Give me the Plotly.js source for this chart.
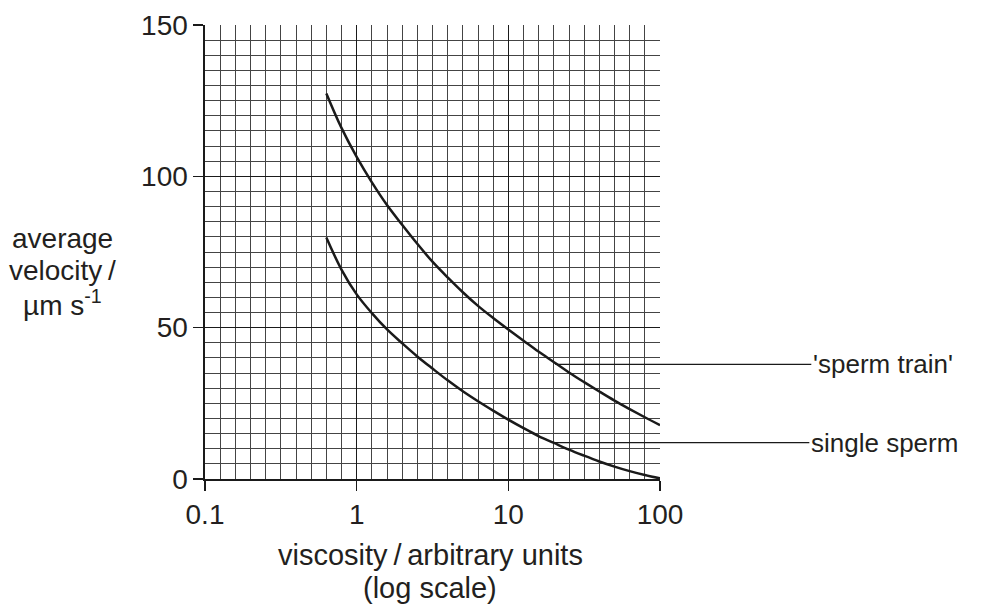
<!DOCTYPE html>
<html>
<head>
<meta charset="utf-8">
<script src="https://cdn.plot.ly/plotly-3.0.1.min.js"></script>
<style>
  html, body { margin: 0; padding: 0; background: #ffffff; }
  #chart { width: 982px; height: 616px; }
</style>
</head>
<body>
<div id="chart"></div>
<script>
// viscosity (arbitrary units, log scale)
const viscosity = [0.631, 0.794, 1, 1.26, 1.58, 2.0, 2.51, 3.16, 3.98, 5.01, 6.31, 7.94,
                   10, 12.6, 15.8, 20.0, 25.1, 31.6, 39.8, 50.1, 63.1, 79.4, 100];
// average velocity (µm s-1)
const spermTrain  = [127.4, 116.0, 106.4, 98.0, 90.6, 83.9, 77.7, 71.8, 66.6, 61.7, 57.2, 53.2,
                     49.4, 45.7, 42.1, 38.6, 35.2, 32.0, 28.9, 25.9, 23.1, 20.4, 17.8];
const singleSperm = [79.8, 69.2, 61.0, 54.8, 49.5, 44.8, 40.5, 36.5, 32.6, 29.0, 25.7, 22.6,
                     19.6, 16.8, 14.2, 11.9, 9.7, 7.7, 5.8, 4.1, 2.6, 1.3, 0.2];
const xTickVals = [0.1, 1, 10, 100];
const xTickText = ['0.1', '1', '10', '100'];
const yTickVals = [0, 50, 100, 150];
const seriesLabels = ["'sperm train'", 'single sperm'];
const yTitleLines = ['average', 'velocity\u2009/', 'µm s<sup>-1</sup>'];
const xTitleLines = ['viscosity\u2009/\u2009arbitrary units', '(log scale)'];
const labelAtViscosity = [20.4, 19.8];
const labelVelocity = [37.9, 12.0];

const FONT = 'Liberation Sans, Arial, Helvetica, sans-serif';
const TXT = '#231f20';
const FS = 28;

const traces = [
  { x: [], y: [], xaxis: 'x', yaxis: 'y', type: 'scatter', mode: 'lines', showlegend: false, hoverinfo: 'skip' },
  { x: viscosity, y: spermTrain, xaxis: 'x2', yaxis: 'y', type: 'scatter', mode: 'lines',
    line: { color: '#1a1a1a', width: 2.5, shape: 'spline', smoothing: 1 }, name: seriesLabels[0], showlegend: false },
  { x: viscosity, y: singleSperm, xaxis: 'x2', yaxis: 'y', type: 'scatter', mode: 'lines',
    line: { color: '#1a1a1a', width: 2.5, shape: 'spline', smoothing: 1 }, name: seriesLabels[1], showlegend: false }
];

// paper-y helper from a pixel row (plot area spans rows 25..479)
const py = (row) => (479 - row) / 454;
const px = (col) => (col - 205) / 455;

const annotations = [];
const yRows = [238, 270, 303];
yTitleLines.forEach((t, i) => annotations.push({
  xref: 'paper', yref: 'paper', x: px(62), y: py(yRows[i]), xanchor: 'center', yanchor: 'middle',
  text: t, showarrow: false, font: { family: FONT, size: FS, color: TXT }
}));
const xRows = [555, 588];
xTitleLines.forEach((t, i) => annotations.push({
  xref: 'paper', yref: 'paper', x: px(430), y: py(xRows[i]), xanchor: 'center', yanchor: 'middle',
  text: t, showarrow: false, font: { family: FONT, size: 29, color: TXT }
}));
seriesLabels.forEach((t, i) => annotations.push({
  xref: 'x2', yref: 'y', x: Math.log10(labelAtViscosity[i]), y: labelVelocity[i],
  text: t, showarrow: true, arrowhead: 0, arrowwidth: 1.3, arrowcolor: '#1a1a1a',
  ax: 256, ay: 0, xanchor: 'left', yanchor: 'middle', standoff: 0, startstandoff: 0,
  font: { family: FONT, size: 26, color: TXT }
}));

const layout = {
  width: 982, height: 616,
  margin: { l: 205, r: 322, t: 25, b: 137, pad: 0 },
  paper_bgcolor: '#ffffff', plot_bgcolor: '#ffffff',
  font: { family: FONT, size: FS, color: TXT },
  showlegend: false,
  xaxis: {
    type: 'linear', range: [-1, 2], dtick: 1, tick0: 0,
    showgrid: true, gridcolor: '#1a1a1a', gridwidth: 1.6,
    minor: { dtick: 0.1, tick0: 0, showgrid: true, gridcolor: '#444444', gridwidth: 1 },
    showticklabels: false, ticks: '', zeroline: false, showline: false, fixedrange: true
  },
  xaxis2: {
    type: 'log', range: [-1, 2], overlaying: 'x', anchor: 'y', side: 'bottom',
    tickmode: 'array', tickvals: xTickVals, ticktext: xTickText,
    ticks: 'outside', ticklen: 10, tickwidth: 1.6, tickcolor: '#1a1a1a',
    tickfont: { family: FONT, size: FS, color: TXT },
    showgrid: false, zeroline: false, showline: true, linecolor: '#1a1a1a', linewidth: 1.6,
    fixedrange: true
  },
  yaxis: {
    range: [0, 150], tickmode: 'array', tickvals: yTickVals,
    showgrid: true, gridcolor: '#1a1a1a', gridwidth: 1.6,
    minor: { dtick: 5, tick0: 0, showgrid: true, gridcolor: '#444444', gridwidth: 1 },
    ticks: 'outside', ticklen: 10, tickwidth: 1.6, tickcolor: '#1a1a1a',
    tickfont: { family: FONT, size: FS, color: TXT },
    zeroline: false, showline: true, linecolor: '#1a1a1a', linewidth: 1.6, fixedrange: true
  },
  annotations: annotations
};

Plotly.newPlot('chart', traces, layout, { displayModeBar: false, staticPlot: true });
</script>
</body>
</html>
